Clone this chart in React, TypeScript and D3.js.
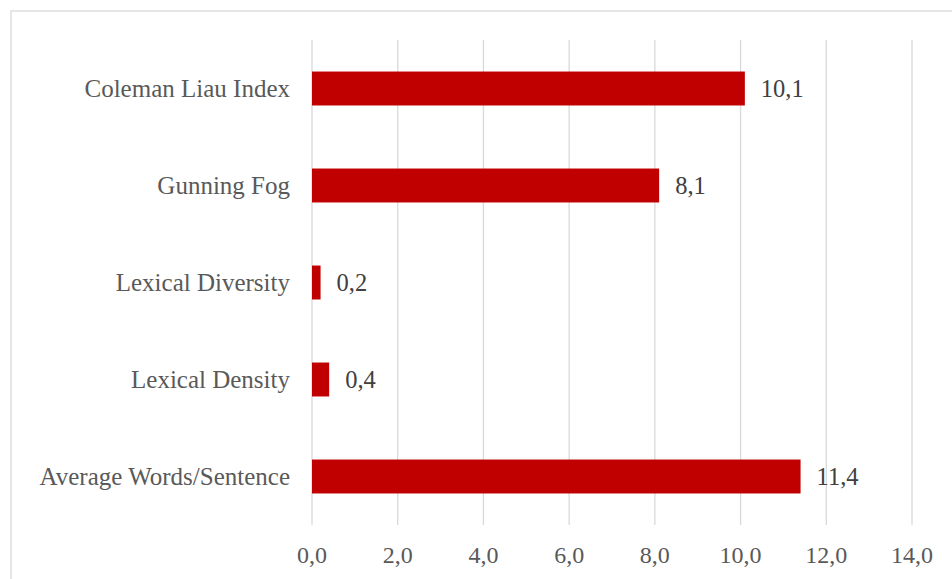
import React from "react";
import * as d3 from "d3";

const categories = [
  "Coleman Liau Index",
  "Gunning Fog",
  "Lexical Diversity",
  "Lexical Density",
  "Average Words/Sentence",
];
const values = [10.1, 8.1, 0.2, 0.4, 11.4];
const ticks = [0, 2, 4, 6, 8, 10, 12, 14];

const W = 952;
const H = 579;
const FONT = "'Liberation Serif', 'DejaVu Serif', serif";

function App() {
  // plot area
  const x = d3.scaleLinear().domain([0, 14]).range([312, 912]);
  const y = d3
    .scaleBand()
    .domain(categories)
    .range([40, 525])
    .paddingInner(0.65)
    .paddingOuter(0.325);

  const fmt = (v: number) => v.toFixed(1).replace(".", ",");

  return (
    <svg
      width={W}
      height={H}
      style={{ position: "absolute", left: 0, top: 0, background: "#fff" }}
    >
      {/* chart border */}
      <rect x={11} y={11} width={W + 10} height={H + 10} fill="none" stroke="#d9d9d9" strokeWidth={1.3} />

      {/* gridlines */}
      {ticks.map((t) => (
        <line key={t} x1={x(t)} x2={x(t)} y1={40} y2={525} stroke="#d9d9d9" strokeWidth={1.3} />
      ))}

      {/* bars */}
      {categories.map((c, i) => (
        <rect
          key={c}
          x={x(0)}
          y={y(c)}
          width={x(values[i]) - x(0)}
          height={y.bandwidth()}
          fill="#c00000"
        />
      ))}

      {/* value labels */}
      {categories.map((c, i) => (
        <text
          key={c}
          x={x(values[i]) + 16}
          y={(y(c) as number) + y.bandwidth() / 2}
          dy="0.35em"
          fontFamily={FONT}
          fontSize={24.5}
          fill="#404040"
        >
          {fmt(values[i])}
        </text>
      ))}

      {/* category labels */}
      {categories.map((c) => (
        <text
          key={c}
          x={290}
          y={(y(c) as number) + y.bandwidth() / 2}
          dy="0.35em"
          textAnchor="end"
          fontFamily={FONT}
          fontSize={25}
          fill="#595959"
        >
          {c}
        </text>
      ))}

      {/* x tick labels */}
      {ticks.map((t) => (
        <text
          key={t}
          x={x(t)}
          y={555}
          dy="0.35em"
          textAnchor="middle"
          fontFamily={FONT}
          fontSize={24}
          fill="#595959"
        >
          {fmt(t)}
        </text>
      ))}
    </svg>
  );
}

export default App;
